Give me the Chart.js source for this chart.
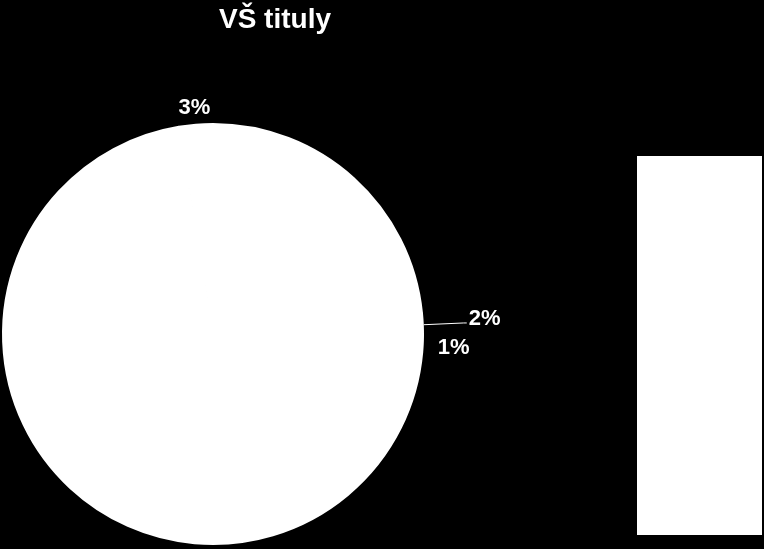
<!DOCTYPE html>
<html>
<head>
<meta charset="utf-8">
<script src="https://cdn.jsdelivr.net/npm/chart.js@4.4.1/dist/chart.umd.min.js"></script>
<style>
html, body { margin:0; padding:0; background:#000; }
#wrap { width:764px; height:549px; position:relative; }
</style>
</head>
<body>
<div id="wrap"><canvas id="pieChart"></canvas></div>
<script>
const chartTitle = "VŠ tituly";
const categories = ["Bc.", "Ing.", "Mgr.", "bez VŠ titulu", "Ph.D."];
const shares = [23.4, 1.8, 1.2, 71.0, 2.6];

// where each percentage goes: inside the slice or out past the edge
const labelPlace = [
    {outside:false},
    {outside:true, dist:40, leader:true},
    {outside:true, dist:30},
    {outside:false},
    {outside:true, dist:18}
];

const FONT = "'Liberation Sans', Arial, sans-serif";

// black page, white legend box on the right
const legendBox = {
    id: "legendBox",
    beforeDraw(chart){
        const c = chart.ctx;
        c.save();
        c.fillStyle = "#000";
        c.fillRect(0, 0, chart.width, chart.height);
        c.fillStyle = "#fff";
        c.fillRect(637, 156, 125, 379);
        c.restore();
    }
};

// title + percentage labels (no datalabels plugin available)
const pieLabels = {
    id: "pieLabels",
    afterDatasetsDraw(chart){
        const c = chart.ctx;
        const total = shares.reduce((a,b)=>a+b, 0);
        c.save();
        c.fillStyle = "#fff";
        c.font = "bold 28px " + FONT;
        c.textAlign = "center";
        c.textBaseline = "alphabetic";
        c.fillText(chartTitle, 275, 28);

        c.font = "bold 22px " + FONT;
        chart.getDatasetMeta(0).data.forEach((arc, i)=>{
            const p = labelPlace[i];
            const txt = Math.round(shares[i] / total * 100) + "%";
            const mid = (arc.startAngle + arc.endAngle) / 2;
            const r = arc.outerRadius + 1;
            const cos = Math.cos(mid), sin = Math.sin(mid);
            if (!p.outside) {
                c.textAlign = "center";
                c.fillText(txt, arc.x + cos * r * 0.6, arc.y + sin * r * 0.6 + 8);
                return;
            }
            const R = r + p.dist;
            const lx = arc.x + cos * R, ly = arc.y + sin * R;
            if (p.leader) {
                c.strokeStyle = "#fff";
                c.lineWidth = 1;
                c.beginPath();
                c.moveTo(arc.x + cos * r, arc.y + sin * r);
                c.lineTo(lx, ly);
                c.lineTo(lx + 3, ly);
                c.stroke();
                c.textAlign = "left";
                c.fillText(txt, lx + 5, ly + 2);
            } else {
                c.textAlign = "center";
                c.fillText(txt, lx, ly + 8);
            }
        });
        c.restore();
    }
};

const ctx = document.getElementById("pieChart");
new Chart(ctx, {
    type: "pie",
    data: {
        labels: categories,
        datasets: [{
            data: shares,
            backgroundColor: "#fff",
            borderColor: "#fff",
            borderWidth: 2,
            hoverOffset: 0
        }]
    },
    options: {
        responsive: true,
        maintainAspectRatio: false,
        animation: false,
        layout: {
            padding: {left: 2, right: 340, top: 123, bottom: 4}
        },
        plugins: {
            legend: { display: false },
            title: { display: false },
            tooltip: { enabled: false }
        }
    },
    plugins: [legendBox, pieLabels]
});
</script>
</body>
</html>
